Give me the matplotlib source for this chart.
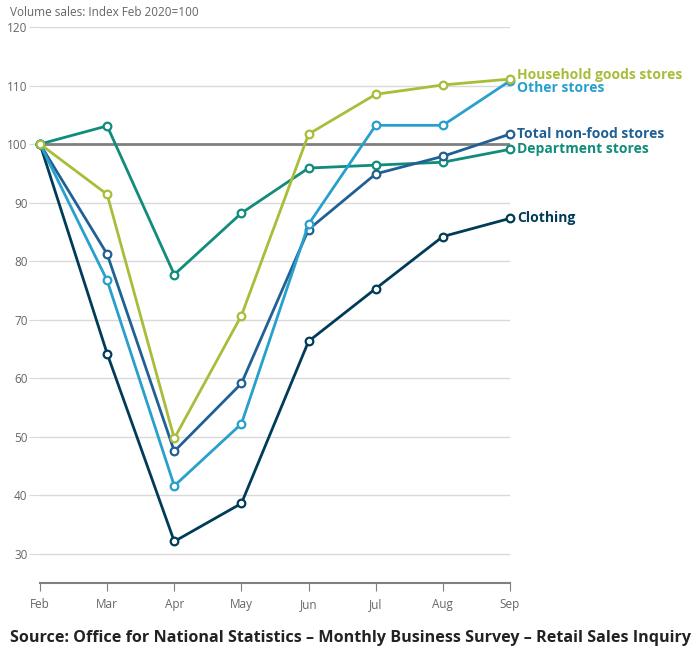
import matplotlib
matplotlib.use("Agg")
import matplotlib.pyplot as plt
import numpy as np

plt.rcParams['font.family'] = ['Open Sans', 'DejaVu Sans']

months = ['Feb', 'Mar', 'Apr', 'May', 'Jun', 'Jul', 'Aug', 'Sep']

household = [100, 91.4, 49.7, 70.7, 101.7, 108.5, 110.1, 111.1]
other = [100, 76.7, 41.6, 52.2, 86.3, 103.2, 103.2, 110.8]
total_nonfood = [100, 81.2, 47.5, 59.1, 85.4, 94.9, 97.9, 101.7]
department = [100, 103.1, 77.7, 88.2, 95.9, 96.4, 96.9, 99.1]
clothing = [100, 64.2, 32.1, 38.6, 66.3, 75.3, 84.2, 87.3]

yticks = [30, 40, 50, 60, 70, 80, 90, 100, 110, 120]

# name, values, colour, label nudge in points
series = [
    ('Clothing', clothing, '#003c57', 0),
    ('Department stores', department, '#118c7b', 0),
    ('Total non-food stores', total_nonfood, '#206095', 0),
    ('Other stores', other, '#27a0cc', -5),
    ('Household goods stores', household, '#a8bd3a', 3),
]

fig = plt.figure(figsize=(7, 6.58), dpi=100)
ax = fig.add_axes([40 / 700, 1 - 583 / 658, 470 / 700, 556 / 658])

x = np.arange(len(months))

for yt in yticks:
    ax.axhline(yt, color='#d9d9d9', lw=1, zorder=1)
ax.axhline(100, color='#7f7f7f', lw=2, zorder=2)

for name, vals, col, nudge in series:
    ax.plot(x, vals, color=col, lw=2, marker='o', markersize=5.5,
            markerfacecolor='white', markeredgecolor=col, markeredgewidth=1.6,
            zorder=3, clip_on=False)
    ax.annotate(name, (x[-1], vals[-1]), xytext=(5, nudge), textcoords='offset points',
                color=col, fontsize=10, fontweight='bold', va='center', ha='left',
                annotation_clip=False)

ax.set_xlim(0, len(months) - 1)
ax.set_ylim(25, 120)
ax.set_xticks(x)
ax.set_xticklabels(months)
ax.set_yticks(yticks)
ax.tick_params(axis='y', length=8, color='#d9d9d9', labelcolor='#666666', labelsize=8.5, pad=1)
ax.tick_params(axis='x', length=6, color='#7f7f7f', labelcolor='#666666', labelsize=8.5, pad=5)

for s in ['top', 'right', 'left']:
    ax.spines[s].set_visible(False)
ax.spines['bottom'].set_color('#7f7f7f')
ax.spines['bottom'].set_linewidth(1.5)

fig.text(10 / 700, 1 - 13 / 658, 'Volume sales: Index Feb 2020=100', fontsize=8.5,
         color='#666666', va='center', ha='left')
fig.text(10 / 700, 1 - 638 / 658,
         'Source: Office for National Statistics \u2013 Monthly Business Survey \u2013 Retail Sales Inquiry',
         fontsize=11.6, fontweight='bold', color='#222222', va='center', ha='left')

fig.savefig('out.png', dpi=100)
